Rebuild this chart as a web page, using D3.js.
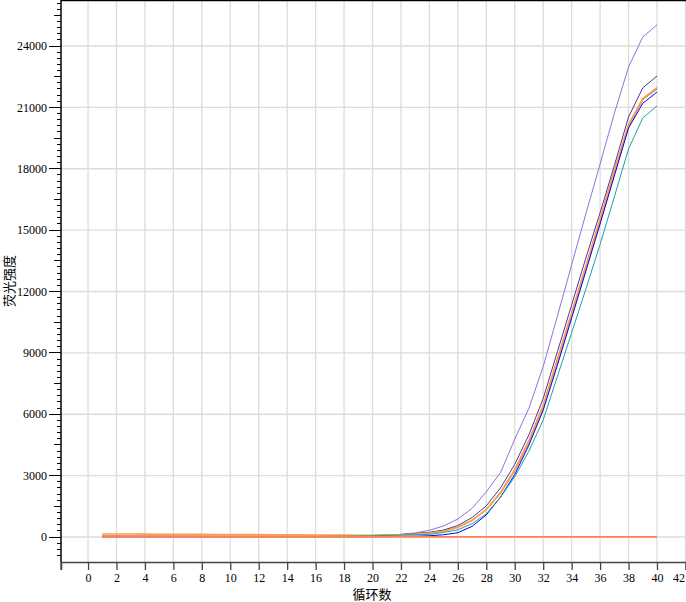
<!DOCTYPE html>
<html><head><meta charset="utf-8">
<script src="https://cdn.jsdelivr.net/npm/d3@7"></script>
<style>body{margin:0;background:#fff}svg{display:block}</style>
</head><body>
<script>
const cycles = d3.range(1, 41);
const xTicks = d3.range(0, 43, 2);
const yTicks = d3.range(0, 24001, 3000);
const seriesNames = ["S1","S2","S3","S4","S5","S6","S7","NTC"];
const seriesColors = ["#9370DB","#483D8B","#2E8B57","#FA8072","#FFA040","#0000FF","#20A0A0","#FF7F50"];
const seriesWidths = [1,1,1,1,1.6,1,1,1.8];
const s1 = [40,40,38,38,36,36,35,35,34,34,33,33,33,34,35,38,42,48,56,68,90,130,200,330,540,880,1400,2210,3150,4780,6300,8330,10800,13300,15800,18230,20700,22970,24440,25030];
const s2 = [30,30,30,29,29,28,28,28,28,28,28,28,29,30,32,35,40,46,55,68,90,120,165,230,340,560,950,1520,2400,3550,5000,6770,9060,11340,13640,15850,18150,20530,21950,22530];
const s3 = [35,35,34,34,33,33,33,32,32,32,32,32,33,34,36,40,45,52,62,76,95,120,160,215,300,480,820,1340,2140,3220,4620,6330,8550,10800,13100,15400,17750,20050,21380,21900];
const s4 = [60,58,56,55,54,53,52,51,50,50,50,50,50,51,52,54,57,62,68,76,90,110,140,190,290,480,830,1360,2200,3320,4750,6480,8750,11000,13300,15600,17950,20200,21450,21980];
const s5 = [150,148,145,142,138,135,132,128,125,122,118,115,112,108,105,100,96,92,88,86,90,105,130,180,280,460,800,1330,2150,3250,4650,6350,8600,10850,13150,15450,17800,20100,21400,21950];
const s6 = [10,10,10,10,10,10,10,10,10,10,10,10,10,10,10,10,10,12,14,16,20,26,38,60,110,210,520,1080,1950,3050,4500,6200,8400,10700,13000,15300,17650,19990,21200,21750];
const s7 = [20,20,20,20,20,20,20,20,20,20,20,20,20,21,22,25,30,38,48,60,75,95,110,130,220,350,650,1130,1950,2950,4200,5720,7850,9980,12120,14300,16620,18970,20480,21070];
const ntc = [10,10,10,10,10,10,10,10,10,10,10,10,10,10,10,10,10,10,10,10,10,10,10,10,10,10,10,10,10,10,10,10,10,10,10,10,10,10,10,10];
const seriesValues = [s1,s2,s3,s4,s5,s6,s7,ntc];

const W = 686, H = 602;
const svg = d3.select("body").append("svg").attr("width", W).attr("height", H);
const x = d3.scaleLinear().domain([-1.9, 42.04]).range([61, 686]);
const y = d3.scaleLinear().domain([-1222, 26249]).range([562, 0]);
const numFont = "'Liberation Serif','DejaVu Serif',serif";
const cjkFont = "'Noto Sans CJK SC','Noto Sans CJK JP',sans-serif";

// grid
svg.append("g").selectAll("line").data(xTicks).join("line")
  .attr("x1", d => x(d)).attr("x2", d => x(d)).attr("y1", 0).attr("y2", 562)
  .attr("stroke", "#dcdcdc").attr("stroke-width", 1.3);
svg.append("g").selectAll("line").data(yTicks).join("line")
  .attr("x1", 61).attr("x2", 686).attr("y1", d => y(d)).attr("y2", d => y(d))
  .attr("stroke", "#dcdcdc").attr("stroke-width", 1.3);

// lines
const line = d3.line().x((d, i) => x(cycles[i])).y(d => y(d));
seriesValues.forEach((vals, k) => {
  svg.append("path").datum(vals).attr("d", line)
    .attr("fill", "none").attr("stroke", seriesColors[k]).attr("stroke-width", seriesWidths[k])
    .attr("data-name", seriesNames[k]);
});

// y axis
const yMinor = d3.range(-900, 26249, 300);
const yg = svg.append("g");
yg.selectAll("line").data(yMinor).join("line")
  .attr("x1", d => d % 3000 === 0 ? 49 : (d % 1500 === 0 ? 54 : 57))
  .attr("x2", 61).attr("y1", d => y(d)).attr("y2", d => y(d))
  .attr("stroke", "#000").attr("stroke-width", 1).attr("shape-rendering", "crispEdges");
yg.selectAll("text").data(yTicks).join("text")
  .attr("x", 47).attr("y", d => y(d)).attr("dy", "0.35em")
  .attr("text-anchor", "end").attr("font-family", numFont).attr("font-size", 12)
  .text(d => d);
svg.append("line").attr("x1", 61).attr("x2", 61).attr("y1", 0).attr("y2", 562)
  .attr("stroke", "#000").attr("stroke-width", 1.5);
svg.append("line").attr("x1", 61).attr("x2", 686).attr("y1", 0.5).attr("y2", 0.5)
  .attr("stroke", "#000").attr("stroke-width", 1.5);

// x axis
const xAxis = d3.axisBottom(x).tickValues(xTicks).tickSize(8).tickFormat(d => d);
const xg = svg.append("g").attr("transform", "translate(0,562)").call(xAxis);
xg.select(".domain").attr("stroke", "#444").attr("stroke-width", 1.5);
xg.selectAll(".tick line").attr("stroke", "#444").attr("stroke-width", 1.3);
xg.selectAll(".tick text").attr("font-family", numFont).attr("font-size", 12).attr("fill", "#000").attr("y", 11);
xg.selectAll(".tick text").filter(d => d === 42).attr("text-anchor", "end").attr("x", -1);
xg.append("line").attr("x1", 61).attr("x2", 61).attr("y1", 0).attr("y2", 8).attr("stroke", "#444").attr("stroke-width", 1.3);

// labels
svg.append("text").attr("x", 372).attr("y", 599).attr("text-anchor", "middle")
  .attr("font-family", cjkFont).attr("font-size", 13).text("循环数");
svg.append("text").attr("transform", "translate(14,281) rotate(-90)").attr("text-anchor", "middle")
  .attr("font-family", cjkFont).attr("font-size", 13).text("荧光强度");
</script>
</body></html>
